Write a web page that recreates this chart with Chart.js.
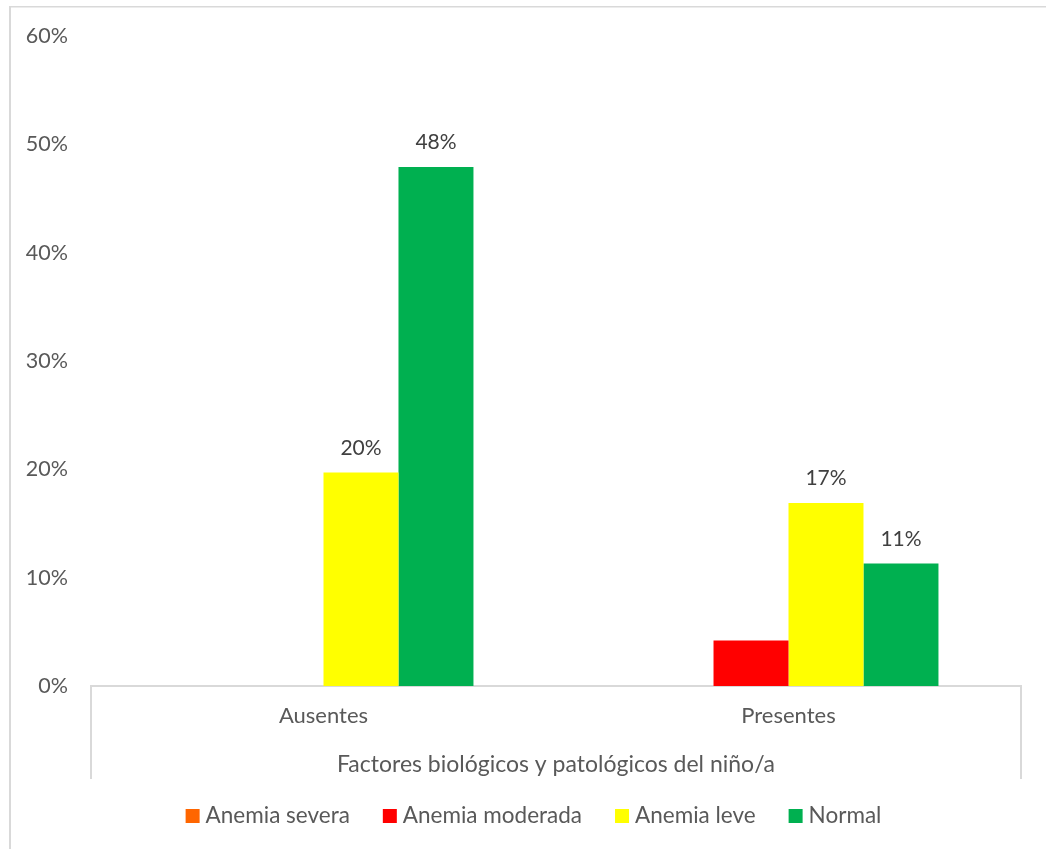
<!DOCTYPE html>
<html>
<head>
<meta charset="utf-8">
<script src="https://cdn.jsdelivr.net/npm/chart.js@4.4.0/dist/chart.umd.min.js"></script>
<style>
html,body{margin:0;padding:0;background:#fff;}
#wrap{position:relative;width:1046px;height:849px;}
</style>
</head>
<body>
<div id="wrap"><canvas id="c" width="1046" height="849"></canvas></div>
<script>
// ---- data ----
const categories = ['Ausentes', 'Presentes'];
const seriesNames = ['Anemia severa', 'Anemia moderada', 'Anemia leve', 'Normal'];
const anemiaSevera = [0, 0];
const anemiaModerada = [0, 4.2];
const anemiaLeve = [19.7, 16.9];
const normal = [47.9, 11.3];
// which values carry a data label
const labelSevera = [false, false];
const labelModerada = [false, false];
const labelLeve = [true, true];
const labelNormal = [true, true];
const yTickValues = [0, 10, 20, 30, 40, 50, 60];
const axisTitle = 'Factores biológicos y patológicos del niño/a';

const colors = ['#FF6600', '#FF0000', '#FFFF00', '#00B050'];
const FONT = 'Lato, "Liberation Sans", sans-serif';
const TEXT = '#595959';

const seriesValues = [anemiaSevera, anemiaModerada, anemiaLeve, normal];
const seriesLabelFlags = [labelSevera, labelModerada, labelLeve, labelNormal];

const datasets = seriesNames.map((name, i) => ({
  label: name,
  data: seriesValues[i],
  backgroundColor: colors[i],
  borderWidth: 0,
  showLabels: seriesLabelFlags[i],
  categoryPercentage: 0.645,
  barPercentage: 1.0
}));

const decor = {
  id: 'decor',
  beforeDraw(chart) {
    const ctx = chart.ctx;
    ctx.save();
    ctx.fillStyle = '#d9d9d9';
    ctx.fillRect(9, 6, 1046 - 9, 1.5);
    ctx.fillRect(9, 6, 2, 849 - 6);
    ctx.restore();
  },
  afterDraw(chart) {
    const ctx = chart.ctx;
    const a = chart.chartArea;
    ctx.save();
    // multi-level category box lines
    ctx.fillStyle = '#d9d9d9';
    ctx.fillRect(a.left - 1, a.bottom, 2, 779 - a.bottom);
    ctx.fillRect(a.right - 1, a.bottom, 2, 779 - a.bottom);
    // outer category title
    ctx.fillStyle = TEXT;
    ctx.font = '23px ' + FONT;
    ctx.textAlign = 'center';
    ctx.textBaseline = 'alphabetic';
    ctx.fillText(axisTitle, (a.left + a.right) / 2, 772);
    // data labels
    ctx.fillStyle = '#404040';
    ctx.font = '21px ' + FONT;
    chart.data.datasets.forEach((ds, di) => {
      const meta = chart.getDatasetMeta(di);
      meta.data.forEach((el, j) => {
        if (!ds.showLabels[j]) return;
        ctx.fillText(Math.round(ds.data[j]) + '%', el.x, el.y - 18);
      });
    });
    // legend
    ctx.font = '22.5px ' + FONT;
    ctx.textAlign = 'left';
    const box = 14, gapBoxText = 20, gapItems = 33;
    const widths = chart.data.datasets.map(ds => ctx.measureText(ds.label).width);
    let total = 0;
    widths.forEach((w, i) => { total += gapBoxText + w + (i < widths.length - 1 ? gapItems : 0); });
    let x = 533.5 - total / 2;
    chart.data.datasets.forEach((ds, i) => {
      ctx.fillStyle = ds.backgroundColor;
      ctx.fillRect(x, 809, box, box);
      ctx.fillStyle = TEXT;
      ctx.fillText(ds.label, x + gapBoxText, 823);
      x += gapBoxText + widths[i] + gapItems;
    });
    ctx.restore();
  }
};

new Chart(document.getElementById('c'), {
  type: 'bar',
  data: { labels: categories, datasets },
  options: {
    responsive: false,
    animation: false,
    layout: { padding: { top: 35, right: 25, bottom: 0, left: 0 } },
    plugins: { legend: { display: false }, tooltip: { enabled: false } },
    scales: {
      x: {
        grid: { display: false, drawTicks: false },
        border: { display: true, color: '#d9d9d9', width: 2 },
        ticks: { color: TEXT, font: { family: FONT, size: 22 }, padding: 17 },
        afterFit(scale) { scale.height = 849 - 686; }
      },
      y: {
        min: 0,
        max: 60,
        afterBuildTicks(scale) { scale.ticks = yTickValues.map(v => ({ value: v })); },
        grid: { display: false, drawTicks: false },
        border: { display: false },
        ticks: {
          color: TEXT,
          font: { family: FONT, size: 21.5 },
          padding: 23,
          callback: v => v + '%'
        },
        afterFit(scale) { scale.width = 91; }
      }
    }
  },
  plugins: [decor]
});
</script>
</body>
</html>
